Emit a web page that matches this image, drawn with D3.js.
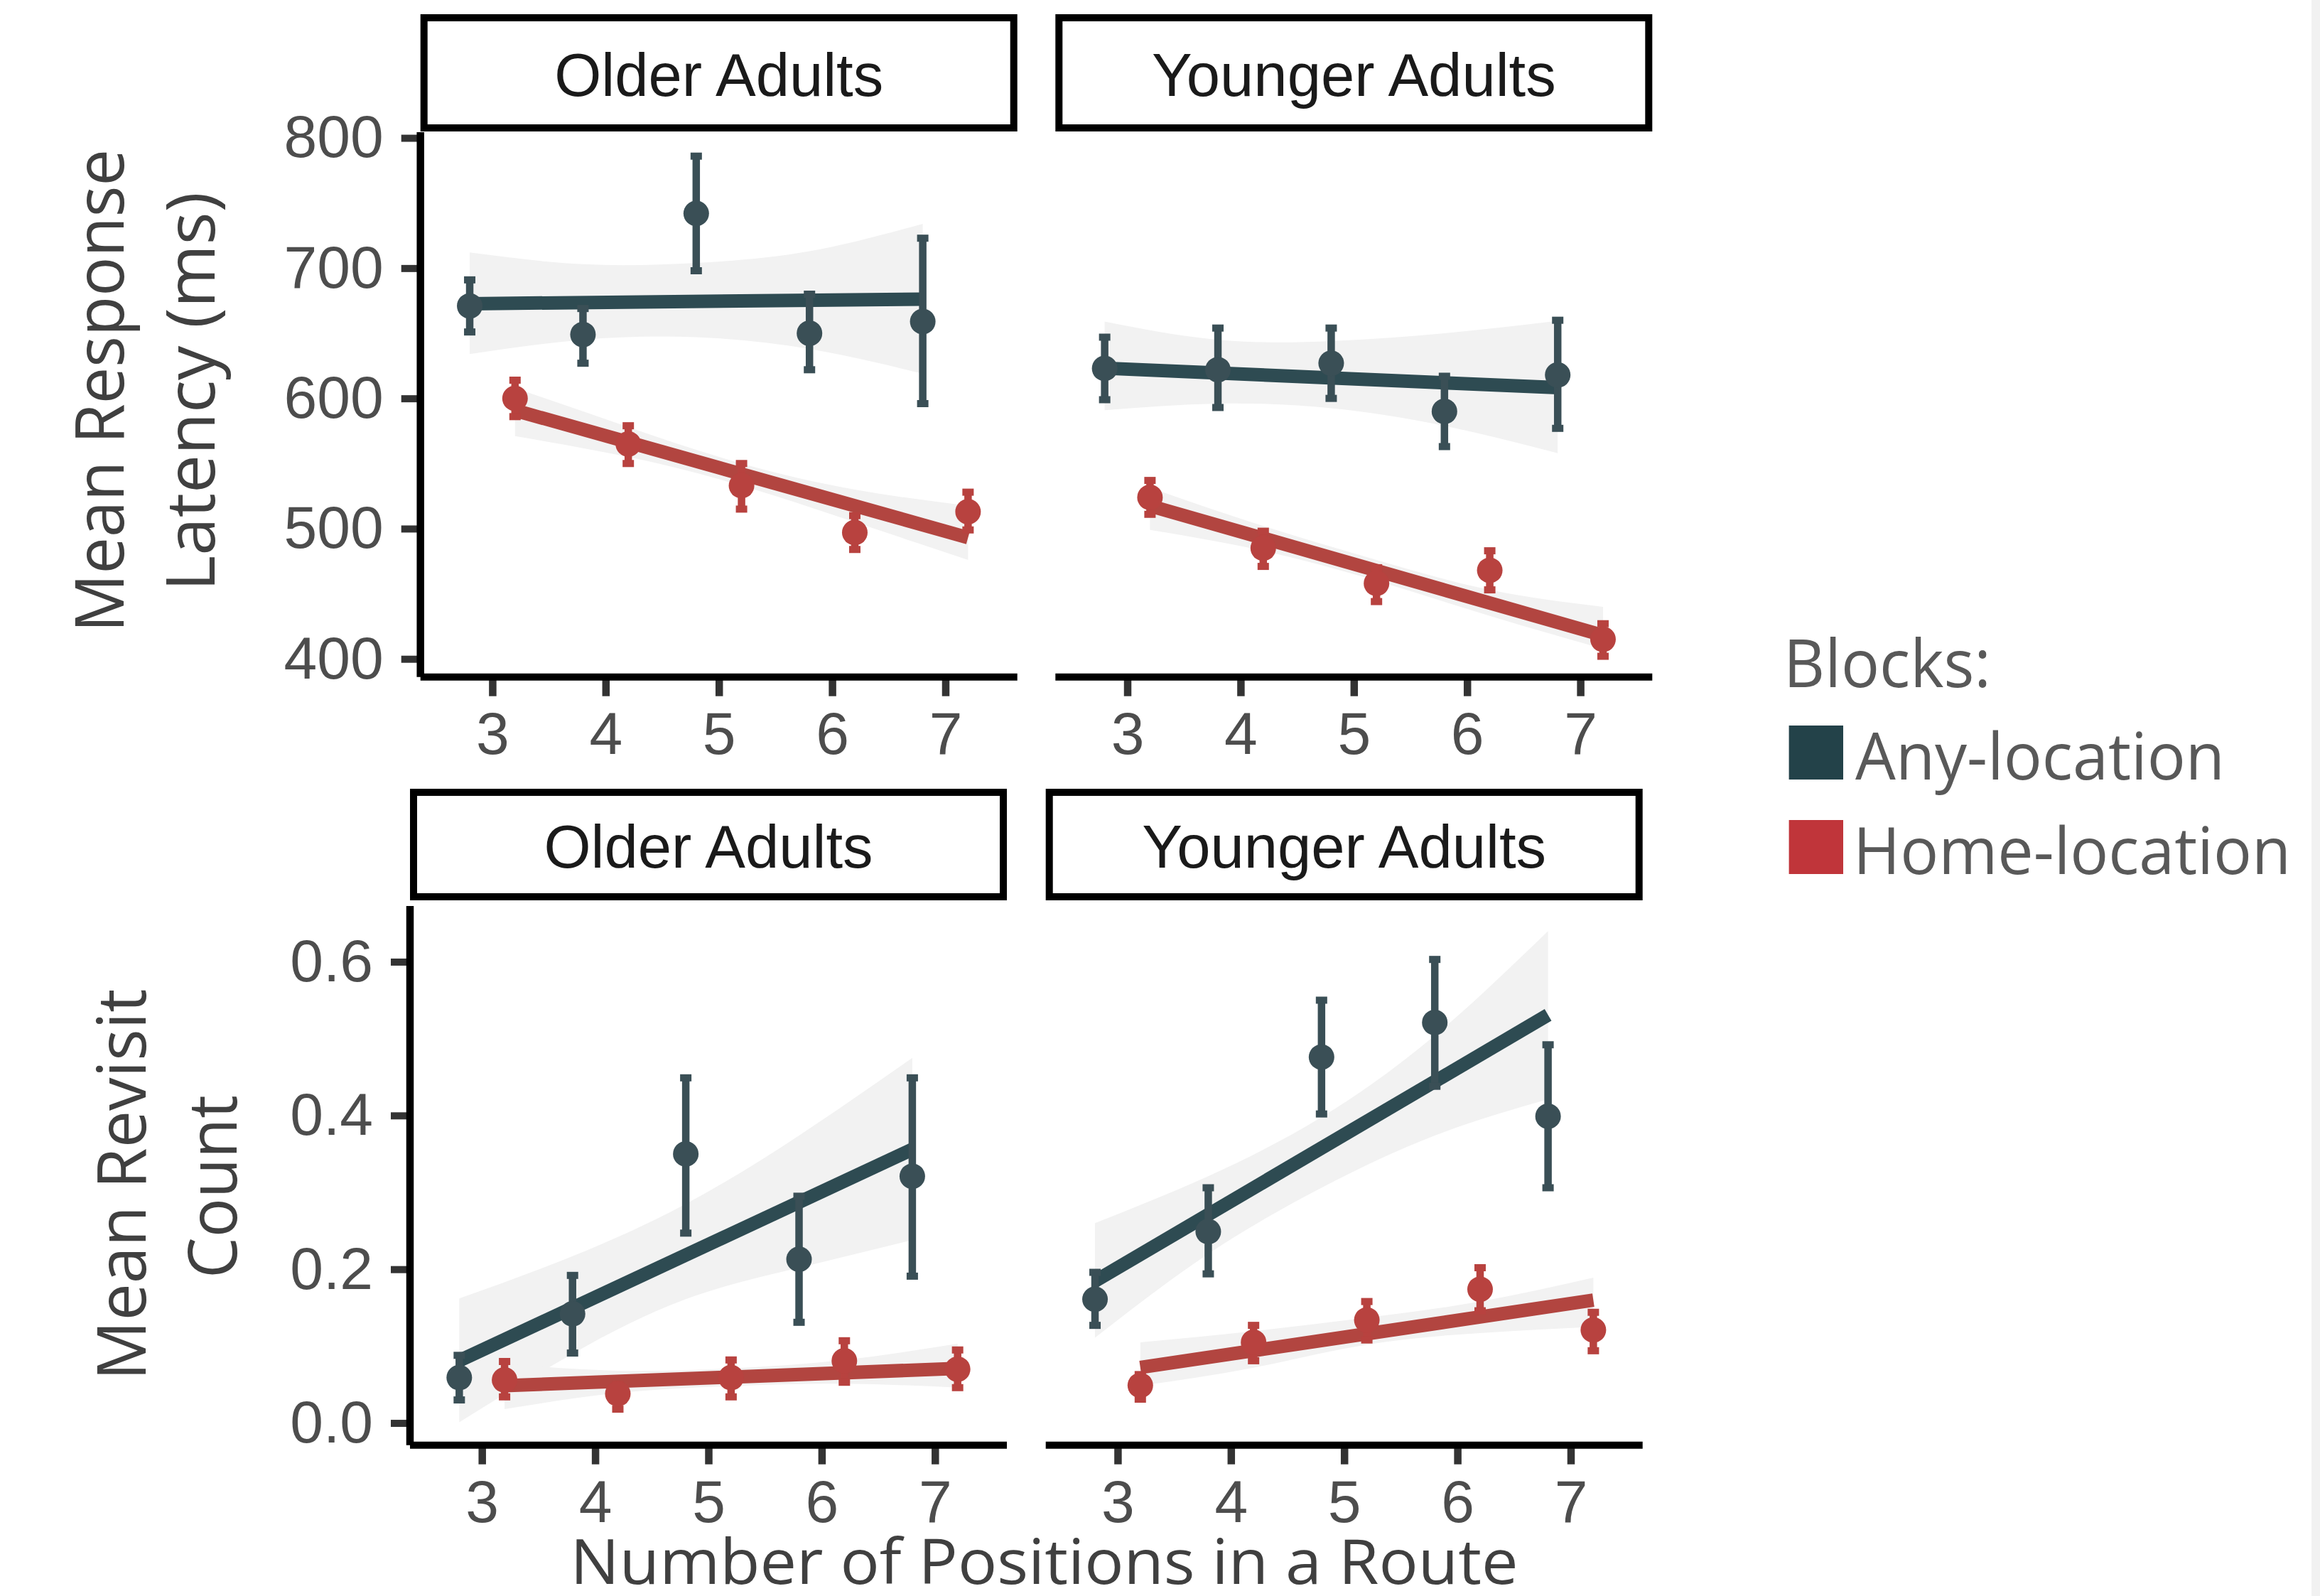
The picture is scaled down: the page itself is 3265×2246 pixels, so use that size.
<!DOCTYPE html>
<html><head><meta charset="utf-8">
<script src="https://cdn.jsdelivr.net/npm/d3@7"></script>
<style>html,body{margin:0;padding:0;background:#fff;} svg{display:block;}</style>
</head><body>
<svg id="chart" width="3265" height="2246"></svg>
<script>
// ---------- DATA ----------
const positions = [3, 4, 5, 6, 7];
const groups = ["Older Adults", "Younger Adults"];
const blocks = ["Any-location", "Home-location"];
const latencyTicks = [400, 500, 600, 700, 800];
const revisitTicks = [0.0, 0.2, 0.4, 0.6];

// points: [mean, error-bar low, error-bar high]
const latOlderAny     = [[671, 651, 691], [649, 627, 669], [742, 698, 786], [650, 622, 680], [659, 596, 723]];
const latOlderHome    = [[600, 586, 614], [565, 550, 579], [533, 515, 550], [497, 484, 510], [513, 499, 528]];
const latYoungerAny   = [[623, 599, 647], [622, 593, 654], [627, 600, 654], [590, 563, 617], [618, 577, 660]];
const latYoungerHome  = [[524, 511, 537], [485, 471, 498], [458, 444, 470], [468, 453, 483], [415, 402, 427]];
const revOlderAny     = [[0.059, 0.030, 0.088], [0.142, 0.091, 0.192], [0.350, 0.247, 0.449], [0.213, 0.131, 0.295], [0.321, 0.191, 0.449]];
const revOlderHome    = [[0.056, 0.034, 0.080], [0.038, 0.018, 0.050], [0.059, 0.034, 0.082], [0.081, 0.053, 0.107], [0.070, 0.046, 0.095]];
const revYoungerAny   = [[0.161, 0.127, 0.196], [0.249, 0.194, 0.306], [0.476, 0.402, 0.550], [0.521, 0.438, 0.603], [0.399, 0.306, 0.492]];
const revYoungerHome  = [[0.049, 0.031, 0.063], [0.105, 0.081, 0.127], [0.134, 0.108, 0.158], [0.174, 0.146, 0.202], [0.121, 0.094, 0.144]];

// linear fit: [value at first position, value at last position]
const fitLatOlderAny    = [672.7, 676.2];
const fitLatOlderHome   = [590.8, 493.1];
const fitLatYoungerAny  = [623.2, 608.2];
const fitLatYoungerHome = [517.5, 418.1];
const fitRevOlderAny    = [0.081, 0.356];
const fitRevOlderHome   = [0.0485, 0.071];
const fitRevYoungerAny  = [0.1846, 0.5308];
const fitRevYoungerHome = [0.0722, 0.1598];

// confidence band of the fit at each position: [low, high]
const bandLatOlderAny    = [[634, 712], [645, 703], [647, 704], [638, 713], [619, 734]];
const bandLatOlderHome   = [[571, 608], [555, 578], [533, 550], [505, 530], [476, 517.5]];
const bandLatYoungerAny  = [[591, 659], [596, 645], [592.5, 644], [579, 650], [558, 659.5]];
const bandLatYoungerHome = [[499, 531.5], [483, 502], [460, 476], [433, 453], [407.7, 440]];
const bandRevOlderAny    = [[0.001, 0.162], [0.090, 0.217], [0.161, 0.285], [0.202, 0.374], [0.238, 0.475]];
const bandRevOlderHome   = [[0.018, 0.077], [0.039, 0.068], [0.048, 0.071], [0.051, 0.082], [0.046, 0.103]];
const bandRevYoungerAny  = [[0.111, 0.260], [0.220, 0.321], [0.306, 0.398], [0.374, 0.504], [0.421, 0.640]];
const bandRevYoungerHome = [[0.0485, 0.105], [0.072, 0.1195], [0.102, 0.137], [0.117, 0.158], [0.125, 0.189]];

// ---------- DRAW ----------
const W = 3265, H = 2246;
const svg = d3.select("#chart");
svg.append("rect").attr("width", W).attr("height", H).attr("fill", "#fff");
svg.append("rect").attr("x", 3253).attr("y", 0).attr("width", 12).attr("height", H).attr("fill", "#f1f1f1");

const colors = {
  line: ["#2e4b52", "#b24540"],
  point: ["#3a4f56", "#b8423f"],
  key: ["#234249", "#c0353a"]
};
const dodge = [-0.2, 0.2];
const xDomain = [2.365, 7.635];
const panelW = 840;
const tickFont = "'Liberation Sans', Arial, sans-serif";
const titleFont = "'Open Sans', 'Liberation Sans', sans-serif";

const rows = [
  {
    top: 186, bottom: 952.7, stripTop: 20, stripBottom: 185, lefts: [591.7, 1485.3],
    domain: [386.1, 804.4], ticks: latencyTicks, fmt: d3.format("d"),
    points: [[latOlderAny, latOlderHome], [latYoungerAny, latYoungerHome]],
    fits: [[fitLatOlderAny, fitLatOlderHome], [fitLatYoungerAny, fitLatYoungerHome]],
    bands: [[bandLatOlderAny, bandLatOlderHome], [bandLatYoungerAny, bandLatYoungerHome]]
  },
  {
    top: 1275, bottom: 2033.7, stripTop: 1110, stripBottom: 1267, lefts: [577, 1471.7],
    domain: [-0.0288, 0.6725], ticks: revisitTicks, fmt: d3.format(".1f"),
    points: [[revOlderAny, revOlderHome], [revYoungerAny, revYoungerHome]],
    fits: [[fitRevOlderAny, fitRevOlderHome], [fitRevYoungerAny, fitRevYoungerHome]],
    bands: [[bandRevOlderAny, bandRevOlderHome], [bandRevYoungerAny, bandRevYoungerHome]]
  }
];

rows.forEach(row => {
  groups.forEach((grp, gi) => {
    const left = row.lefts[gi];
    const x = d3.scaleLinear().domain(xDomain).range([left, left + panelW]);
    const y = d3.scaleLinear().domain(row.domain).range([row.bottom, row.top]);
    const g = svg.append("g");

    // bands
    blocks.forEach((b, bi) => {
      const data = row.bands[gi][bi].map((d, i) => ({x: positions[i] + dodge[bi], lo: d[0], hi: d[1]}));
      g.append("path").datum(data)
        .attr("d", d3.area().x(d => x(d.x)).y0(d => y(d.lo)).y1(d => y(d.hi)).curve(d3.curveNatural))
        .attr("fill", "#f2f2f2");
    });
    // fit lines
    blocks.forEach((b, bi) => {
      const f = row.fits[gi][bi];
      const data = [{x: positions[0] + dodge[bi], v: f[0]}, {x: positions[positions.length - 1] + dodge[bi], v: f[1]}];
      g.append("path").datum(data)
        .attr("d", d3.line().x(d => x(d.x)).y(d => y(d.v)))
        .attr("fill", "none").attr("stroke", colors.line[bi]).attr("stroke-width", 19);
    });
    // error bars + points
    blocks.forEach((b, bi) => {
      const data = row.points[gi][bi].map((d, i) => ({x: positions[i] + dodge[bi], m: d[0], lo: d[1], hi: d[2]}));
      const eb = g.append("g").selectAll("g").data(data).join("g");
      eb.append("line")
        .attr("x1", d => x(d.x)).attr("x2", d => x(d.x))
        .attr("y1", d => y(d.lo)).attr("y2", d => y(d.hi))
        .attr("stroke", colors.point[bi]).attr("stroke-width", 10.5);
      ["lo", "hi"].forEach(k => {
        eb.append("line")
          .attr("x1", d => x(d.x) - 8).attr("x2", d => x(d.x) + 8)
          .attr("y1", d => y(d[k])).attr("y2", d => y(d[k]))
          .attr("stroke", colors.point[bi]).attr("stroke-width", 10);
      });
      g.append("g").selectAll("circle").data(data).join("circle")
        .attr("cx", d => x(d.x)).attr("cy", d => y(d.m)).attr("r", 18)
        .attr("fill", colors.point[bi]);
    });

    // x axis
    const xa = g.append("g").attr("transform", `translate(0,${row.bottom})`)
      .call(d3.axisBottom(x).tickValues(positions).tickSize(27).tickPadding(22).tickFormat(d3.format("d")));
    xa.select(".domain").remove();
    xa.selectAll(".tick line").attr("stroke", "#333").attr("stroke-width", 10.5);
    xa.selectAll(".tick text").attr("fill", "#4d4d4d").style("font-family", tickFont).style("font-size", "84px");
    g.append("line").attr("x1", left).attr("x2", left + panelW).attr("y1", row.bottom).attr("y2", row.bottom)
      .attr("stroke", "#000").attr("stroke-width", 10);

    // y axis (left panels only)
    if (gi === 0) {
      const ya = g.append("g").attr("transform", `translate(${left},0)`)
        .call(d3.axisLeft(y).tickValues(row.ticks).tickSize(27).tickPadding(25).tickFormat(row.fmt));
      ya.select(".domain").remove();
      ya.selectAll(".tick line").attr("stroke", "#333").attr("stroke-width", 10);
      ya.selectAll(".tick text").attr("fill", "#4d4d4d").style("font-family", tickFont).style("font-size", "84px");
      g.append("line").attr("x1", left).attr("x2", left).attr("y1", row.top).attr("y2", row.bottom)
        .attr("stroke", "#000").attr("stroke-width", 10.5);
    }

    // strip
    g.append("rect").attr("x", left + 5).attr("y", row.stripTop + 5)
      .attr("width", panelW - 10).attr("height", row.stripBottom - row.stripTop - 10)
      .attr("fill", "#fff").attr("stroke", "#000").attr("stroke-width", 10);
    g.append("text").attr("x", left + panelW / 2)
      .attr("y", (row.stripTop + row.stripBottom) / 2 + 0.36 * 85 + 2)
      .attr("text-anchor", "middle").attr("fill", "#1a1a1a")
      .style("font-family", tickFont).style("font-size", "85px").text(grp);
  });
});

// axis titles
function rotTitle(txt, bx, cy, len) {
  svg.append("text").attr("transform", `translate(${bx},${cy}) rotate(-90)`)
    .attr("text-anchor", "middle").attr("fill", "#404040")
    .attr("textLength", len).attr("lengthAdjust", "spacingAndGlyphs")
    .style("font-family", titleFont).style("font-size", "96px").text(txt);
}
rotTitle("Mean Response", 174, 550, 680);
rotTitle("Latency  (ms)", 302, 551, 562);
rotTitle("Mean Revisit", 205, 1667, 551);
rotTitle("Count", 333, 1670, 258);

svg.append("text").attr("x", 1469.6).attr("y", 2229)
  .attr("text-anchor", "middle").attr("fill", "#404040")
  .attr("textLength", 1334).attr("lengthAdjust", "spacingAndGlyphs")
  .style("font-family", titleFont).style("font-size", "88px").text("Number of Positions in a Route");

// legend
const lg = svg.append("g");
lg.append("text").attr("x", 2510).attr("y", 967).attr("fill", "#595959")
  .attr("textLength", 292).attr("lengthAdjust", "spacingAndGlyphs")
  .style("font-family", titleFont).style("font-size", "93px").text("Blocks:");
const keyY = [1021, 1154];
const labX = [2611, 2608];
const labLen = [520, 616];
blocks.forEach((b, i) => {
  lg.append("rect").attr("x", 2517.6).attr("y", keyY[i]).attr("width", 76.4).attr("height", 76)
    .attr("fill", colors.key[i]);
  lg.append("text").attr("x", labX[i]).attr("y", keyY[i] + 76).attr("fill", "#595959")
    .attr("textLength", labLen[i]).attr("lengthAdjust", "spacingAndGlyphs")
    .style("font-family", titleFont).style("font-size", "92px").text(b);
});
</script>
</body></html>
